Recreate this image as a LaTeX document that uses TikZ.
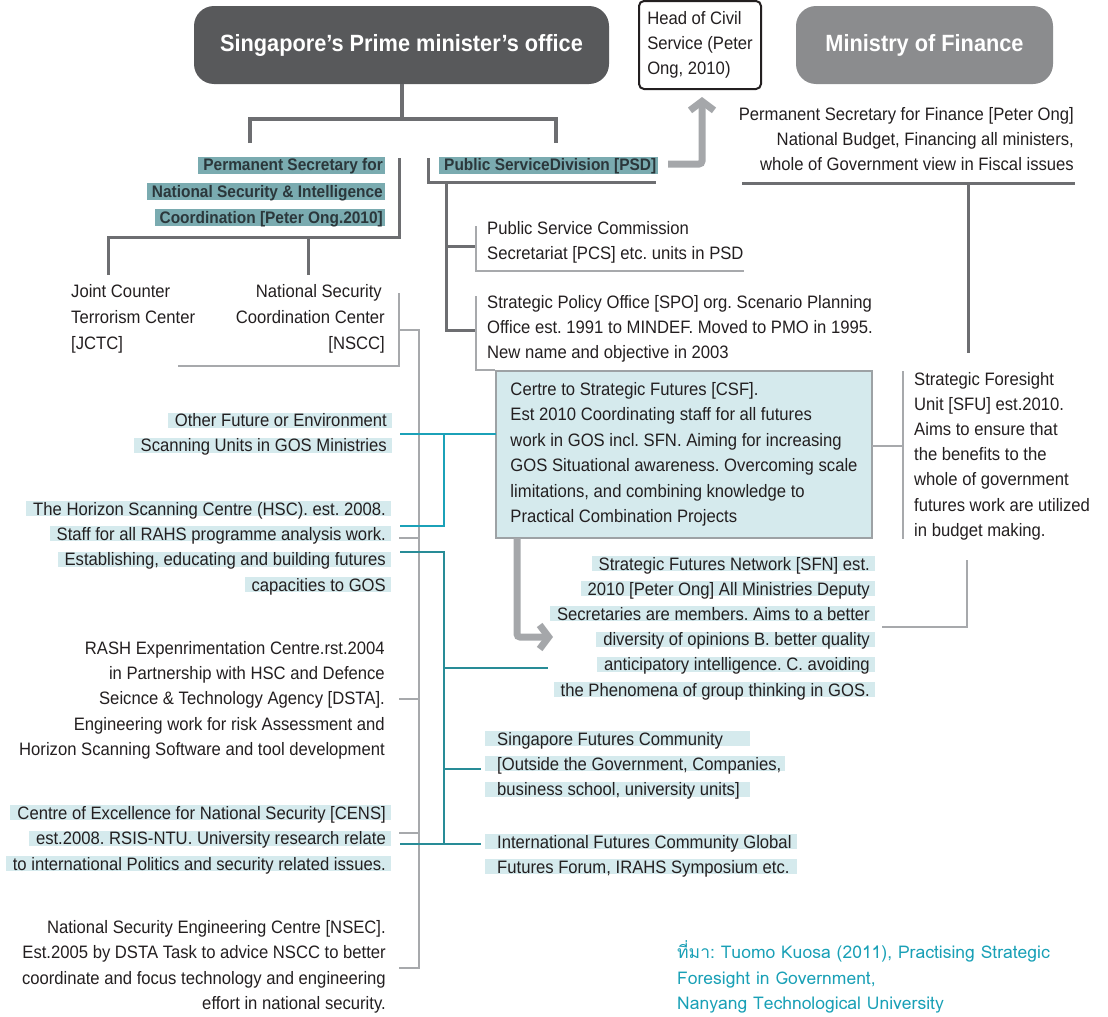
\documentclass[tikz,border=0pt]{standalone}
\usepackage{fontspec}
\setmainfont[FakeStretch=0.925]{Liberation Sans}
\newfontfamily\thaifont[Script=Thai]{Loma}
\usetikzlibrary{arrows.meta}
\frenchspacing

\definecolor{ink}{HTML}{231F20}
\definecolor{boldink}{HTML}{2B373B}
\definecolor{pmogrey}{HTML}{58595B}
\definecolor{mofgrey}{HTML}{8B8C8E}
\definecolor{trunkgrey}{HTML}{6D6E71}
\definecolor{lightgrey}{HTML}{A7A9AC}
\definecolor{arrowgrey}{HTML}{A5A7AA}
\definecolor{hlblue}{HTML}{D5EAED}
\definecolor{hlteal}{HTML}{7AABB0}
\definecolor{csfline}{HTML}{9DA2A5}
\definecolor{tealone}{HTML}{1BA1B8}
\definecolor{tealtwo}{HTML}{288C97}
\definecolor{sourceteal}{HTML}{19A0B6}

% highlighted lines
\newcommand\hl[1]{{\setlength\fboxsep{0pt}\colorbox{hlblue}{\rule[-1pt]{0pt}{15pt}\hspace{7pt}\smash{#1}\hspace{5pt}}}}
\newcommand\hlw[2]{{\setlength\fboxsep{0pt}\colorbox{hlblue}{\rule[-1pt]{0pt}{15pt}\makebox[#1][l]{\hspace{12pt}\smash{#2}}}}}
\newcommand\hlb[1]{{\setlength\fboxsep{0pt}\colorbox{hlteal}{\rule[-3pt]{0pt}{17pt}\hspace{5pt}\smash{#1}\hspace{2pt}}}}

\begin{document}
\begin{tikzpicture}[x=1pt, y=-1pt,
  every node/.style = {inner sep=0pt, text=ink, font=\fontsize{18}{25.4}\selectfont},
  titlebox/.style = {rounded corners=20pt, minimum height=78pt, text=white,
    font=\fontsize{23.5}{28}\selectfont\bfseries},
  boldlabel/.style = {text=boldink, font=\fontsize{16.7}{26.3}\selectfont\bfseries},
  trunk/.style = {draw=trunkgrey, line width=4pt},
  branch/.style = {draw=trunkgrey, line width=3pt},
  twig/.style = {draw=lightgrey, line width=2.5pt},
  bigarrow/.style = {draw=arrowgrey, line width=7pt, rounded corners=3pt,
    -{Straight Barb[length=9pt, width=24pt]}},
  tealA/.style = {draw=tealone, line width=2pt},
  tealB/.style = {draw=tealtwo, line width=2pt}]
\useasboundingbox (0,0) rectangle (1108,1017);

% top row
\node[titlebox, fill=pmogrey, minimum width=415pt] (pmo) at (401.5,45) {Singapore’s Prime minister’s office};
\node[titlebox, fill=mofgrey, minimum width=257pt] (mof) at (924.5,45) {Ministry of Finance};
\node[draw=ink, line width=2pt, rounded corners=5pt, fill=white, minimum width=122pt,
  minimum height=88pt, align=left, font=\fontsize{18}{25.3}\selectfont] (hcs) at (700,45)
  {Head of Civil\\Service (Peter\\Ong, 2010)};

% base anchors sit on the last line
\node[boldlabel, anchor=base east, align=right] (pssec) at (385,223.3)
  {\hlb{Permanent Secretary for}\\\hlb{National Security \& Intelligence}\\\hlb{Coordination [Peter Ong.2010]}};
\node[boldlabel, anchor=base west] (psd) at (439,170.7) {\hlb{Public ServiceDivision [PSD]}};
\node[anchor=base east, align=right, font=\fontsize{18}{24.7}\selectfont] (mofsec) at (1074,170)
  {Permanent Secretary for Finance [Peter Ong]\\National Budget, Financing all ministers,\hspace*{9pt}\\whole of Government view in Fiscal issues};

% PSD units
\node[anchor=base west, align=left, font=\fontsize{18}{25}\selectfont] (pcs) at (487,259)
  {Public Service Commission\\Secretariat [PCS] etc. units in PSD};
\node[anchor=base west, align=left, font=\fontsize{18}{25}\selectfont] (spo) at (487,358)
  {Strategic Policy Office [SPO] org. Scenario Planning\\Office est. 1991 to MINDEF. Moved to PMO in 1995.\\New name and objective in 2003};
\node[fill=hlblue, draw=csfline, line width=2pt, minimum width=376pt, minimum height=167pt,
  align=left, font=\fontsize{18}{25.5}\selectfont] (csf) at (684,454.5)
  {Certre to Strategic Futures [CSF].\\Est 2010 Coordinating staff for all futures\\work in GOS incl. SFN. Aiming for increasing\\GOS Situational awareness. Overcoming scale\\limitations, and combining knowledge to\\Practical Combination Projects};
\node[anchor=base west, align=left, font=\fontsize{18}{25.2}\selectfont] (sfu) at (914,536.2)
  {Strategic Foresight\\Unit [SFU] est.2010.\\Aims to ensure that\\the benefits to the\\whole of government\\futures work are utilized\\in budget making.};
\node[anchor=base east, align=right, font=\fontsize{18}{25.2}\selectfont] (sfn) at (875,696)
  {\hl{Strategic Futures Network [SFN] est.}\\\hl{2010 [Peter Ong] All Ministries Deputy}\\\hl{Secretaries are members. Aims to a better}\\\hl{diversity of opinions B. better quality}\\\hl{anticipatory intelligence. C. avoiding}\\\hl{the Phenomena of group thinking in GOS.}};
\node[anchor=base west, align=left, font=\fontsize{18}{25.35}\selectfont] (sfc) at (485,795.7)
  {\hlw{265pt}{Singapore Futures Community}\\\hlw{300pt}{[Outside the Government, Companies,}\\\hlw{265pt}{business school, university units]}};
\node[anchor=base west, align=left, font=\fontsize{18}{25}\selectfont] (ifc) at (485,873.3)
  {\hlw{312pt}{International Futures Community Global}\\\hlw{312pt}{Futures Forum, IRAHS Symposium etc.}};

% left column
\node[anchor=base west, align=left, font=\fontsize{18}{25.7}\selectfont] (jctc) at (71,349)
  {Joint Counter\\Terrorism Center\\{}[JCTC]};
\node[anchor=base east, align=right, font=\fontsize{18}{25.7}\selectfont] (nscc) at (385,349)
  {National Security\hspace*{3pt}\\Coordination Center\hspace*{3pt}\\{}[NSCC]};
\node[anchor=base east, align=right, font=\fontsize{18}{25}\selectfont] (other) at (392,451.7)
  {\hl{Other Future or Environment}\\\hl{Scanning Units in GOS Ministries}};
\node[anchor=base east, align=right, font=\fontsize{18}{25.3}\selectfont] (hsc) at (391,591)
  {\hl{The Horizon Scanning Centre (HSC). est. 2008.}\\\hl{Staff for all RAHS programme analysis work.}\\\hl{Establishing, educating and building futures}\\\hl{capacities to GOS}};
\node[anchor=base east, align=right, font=\fontsize{18}{25.25}\selectfont] (rash) at (385,755.3)
  {RASH Expenrimentation Centre.rst.2004\\in Partnership with HSC and Defence\\Seicnce \& Technology Agency [DSTA].\\Engineering work for risk Assessment and\\Horizon Scanning Software and tool development};
\node[anchor=base east, align=right, font=\fontsize{18}{25.35}\selectfont] (cens) at (391,870)
  {\hl{Centre of Excellence for National Security [CENS]}\\\hl{est.2008. RSIS-NTU. University research relate}\\\hl{to international Politics and security related issues.}};
\node[anchor=base east, align=right, font=\fontsize{18}{25.3}\selectfont] (nsec) at (386,1009.3)
  {National Security Engineering Centre [NSEC].\\Est.2005 by DSTA Task to advice NSCC to better\\coordinate and focus technology and engineering\\effort in national security.};

\node[anchor=base west, align=left, text=sourceteal, font=\thaifont\fontsize{17.5}{25.5}\selectfont] (src) at (677,1009.5)
  {ที่มา: Tuomo Kuosa (2011), Practising Strategic\\Foresight in Government,\\Nanyang Technological University};

% connector points
\coordinate (pmoJoin) at (401.5,119);
\coordinate (pssecTop) at (250,143);
\coordinate (psdTop) at (556,143);
\coordinate (pssecTR) at (399,158);
\coordinate (pssecBR) at (399,237);
\coordinate (jctcTop) at (108,275);
\coordinate (nsccTop) at (308,275);
\coordinate (psdTL) at (428,158);
\coordinate (psdBL) at (428,182);
\coordinate (psdBR) at (656,182);
\coordinate (psdTrunk) at (446,182);
\coordinate (pcsTick) at (476,246);
\coordinate (spoTick) at (476,330);
\coordinate (pcsTL) at (476,226);
\coordinate (pcsBL) at (476,271);
\coordinate (pcsBR) at (744,271);
\coordinate (spoTL) at (476,296);
\coordinate (psdOut) at (668,164);
\coordinate (hcsIn) at (702,97);
\coordinate (mofL) at (742,183);
\coordinate (mofR) at (1075,183);
\coordinate (sfuTop) at (968,353);
\coordinate (sfuT) at (903,371);
\coordinate (sfuB) at (903,539);
\coordinate (csfOut) at (872,446);
\coordinate (sfnR) at (882,627);
\coordinate (sfnUp) at (967,560);
\coordinate (csfFoot) at (517,538);
\coordinate (sfnIn) at (553,637);
\coordinate (nsccTR) at (399,293);
\coordinate (nsccBR) at (399,366);
\coordinate (nsccBL) at (178,366);
\coordinate (nsccTap) at (399,330);
\coordinate (spineTop) at (419,330);
\coordinate (spineBot) at (419,968);
\coordinate (nsecR) at (399,968);
\coordinate (hscR) at (399,538);
\coordinate (rashR) at (399,699);
\coordinate (censR) at (399,833);
\coordinate (csfIn) at (496,434);
\coordinate (otherR) at (400,434);
\coordinate (tealAx) at (444,434);
\coordinate (hscT) at (400,526);
\coordinate (estR) at (400,552);
\coordinate (tealBtop) at (444,552);
\coordinate (tealBbot) at (444,844);
\coordinate (censT) at (400,844);
\coordinate (sfnL) at (548,668);
\coordinate (sfcL) at (481,769);
\coordinate (ifcL) at (481,844);

% grey tree
\draw[trunk] (pmo.south) -- (pmoJoin);
\draw[trunk] (pssecTop) |- (pmoJoin) -| (psdTop);
\draw[branch] (pssecTR) -- (pssecBR) -| (jctcTop);
\draw[branch] (nsccTop |- pssecBR) -- (nsccTop);
\draw[branch] (psdTL) -- (psdBL) -- (psdBR);
\draw[branch] (psdTrunk) |- (spoTick);
\draw[branch] (psdTrunk |- pcsTick) -- (pcsTick);
\draw[twig] (pcsTL) -- (pcsBL) -- (pcsBR);
\draw[twig] (spoTL) |- (csf.north west);
\draw[branch] (mofL) -- (mofR);
\draw[branch] (sfuTop |- mofL) -- (sfuTop);
\draw[twig] (sfuT) -- (sfuB);
\draw[twig] (csfOut) -- (csfOut -| sfuT);
\draw[twig] (sfnR) -| (sfnUp);
\draw[twig] (nsccTR) -- (nsccBR) -- (nsccBL);
\draw[twig] (nsccTap) -- (spineTop) -- (spineBot) -- (nsecR);
\foreach \p in {hscR, rashR, censR}
  \draw[twig] (\p) -- (\p -| spineTop);

% arrows
\draw[bigarrow] (psdOut) -| (hcsIn);
\draw[bigarrow] (csfFoot) |- (sfnIn);

% teal links
\draw[tealA] (csfIn) -- (otherR);
\draw[tealA] (tealAx) |- (hscT);
\draw[tealB] (estR) -- (tealBtop) -- (tealBbot) -- (censT);
\draw[tealB] (tealBbot) -- (ifcL);
\draw[tealB] (tealBtop |- sfnL) -- (sfnL);
\draw[tealB] (tealBtop |- sfcL) -- (sfcL);
\end{tikzpicture}
\end{document}
